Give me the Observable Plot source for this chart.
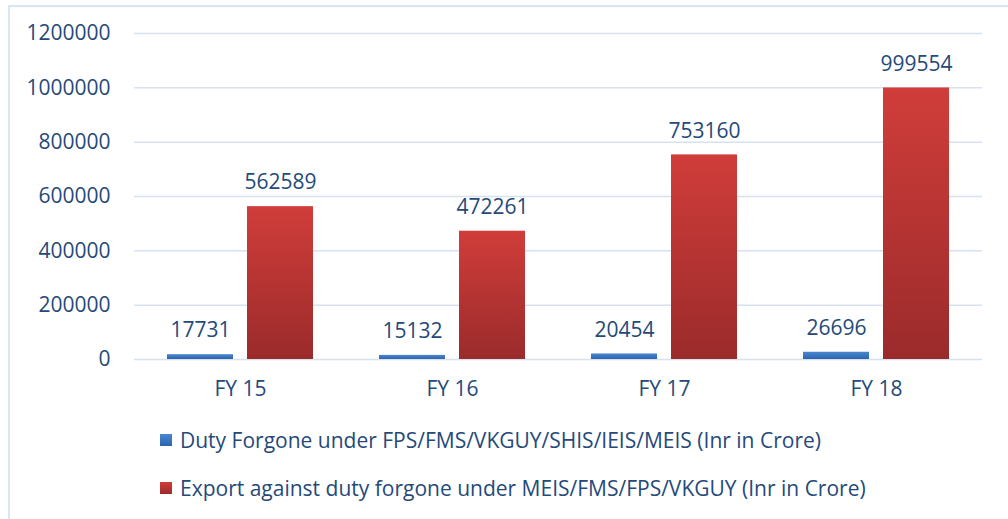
<!DOCTYPE html>
<html>
<head>
<meta charset="utf-8">
<script src="https://cdn.jsdelivr.net/npm/d3@7"></script>
<script src="https://cdn.jsdelivr.net/npm/@observablehq/plot@0.6"></script>
<style>
  html, body { margin: 0; padding: 0; background: #fff; overflow: hidden; }
  body { width: 1008px; height: 519px; position: relative; font-family: "Open Sans", sans-serif; color: #254a7a; }
  #frame { position: absolute; left: 8px; top: 5px; width: 1100px; height: 600px; border: 2px solid #dbe5f1; box-sizing: border-box; }
  #chart { position: absolute; left: 0; top: 0; }
  #legend { position: absolute; left: 160px; top: 416px; font-size: 21px; }
  .item { display: flex; align-items: center; height: 48px; }
  .sw { width: 12px; height: 12px; margin-right: 8px; }
  #chart svg text { font-size: 21px; }
</style>
</head>
<body>
<div id="frame"></div>
<div id="chart"></div>
<div id="legend"></div>
<script>
const years = ["FY 15", "FY 16", "FY 17", "FY 18"];
const seriesNames = [
  "Duty Forgone under FPS/FMS/VKGUY/SHIS/IEIS/MEIS (Inr in Crore)",
  "Export against duty forgone under MEIS/FMS/FPS/VKGUY (Inr in Crore)"
];
const dutyForgone = [17731, 15132, 20454, 26696];
const exportValues = [562589, 472261, 753160, 999554];
const yTicks = [0, 200000, 400000, 600000, 800000, 1000000, 1200000];

const data = [];
years.forEach((y, i) => {
  data.push({year: y, series: seriesNames[0], value: dutyForgone[i]});
  data.push({year: y, series: seriesNames[1], value: exportValues[i]});
});

const textColor = "#254a7a";
const font = "Open Sans, sans-serif";

const plot = Plot.plot({
  width: 1008,
  height: 410,
  marginLeft: 133,
  marginRight: 25,
  marginTop: 33,
  marginBottom: 51,
  style: {fontFamily: font, fontSize: "21px", color: textColor, background: "transparent"},
  fx: {domain: years, padding: 0, label: null, tickSize: 0, tickPadding: 22},
  x: {domain: seriesNames, axis: null, paddingInner: 0.173, paddingOuter: 0.398},
  y: {domain: [0, 1200000], ticks: yTicks, tickSize: 0, tickPadding: 24, label: null, tickFormat: d => String(d)},
  color: {type: "ordinal", domain: seriesNames, range: ["url(#gradBlue)", "url(#gradRed)"]},
  marks: [
    Plot.ruleY(yTicks, {stroke: "#d7e2f0", strokeWidth: 1.5}),
    Plot.barY(data, {fx: "year", x: "series", y: "value", fill: "series", style: "filter: drop-shadow(1px 1px 1.5px rgba(0,0,0,0.25))"}),
    Plot.text(data, {fx: "year", x: "series", y: "value", text: d => String(d.value), dy: -24, fill: textColor, fontSize: 21})
  ]
});

const svgns = "http://www.w3.org/2000/svg";
const defs = document.createElementNS(svgns, "defs");
defs.innerHTML = `
  <linearGradient id="gradBlue" x1="0" y1="0" x2="0" y2="1">
    <stop offset="0" stop-color="#4a86d2"/><stop offset="1" stop-color="#2c64ae"/>
  </linearGradient>
  <linearGradient id="gradRed" x1="0" y1="0" x2="0" y2="1">
    <stop offset="0" stop-color="#d03d3a"/><stop offset="1" stop-color="#9b2b2b"/>
  </linearGradient>`;
plot.insertBefore(defs, plot.firstChild);
document.getElementById("chart").appendChild(plot);

const legend = document.getElementById("legend");
const swatchFills = ["linear-gradient(#4a86d2,#2c64ae)", "linear-gradient(#d03d3a,#9b2b2b)"];
seriesNames.forEach((s, i) => {
  const item = document.createElement("div");
  item.className = "item";
  const sw = document.createElement("span");
  sw.className = "sw";
  sw.style.background = swatchFills[i];
  const t = document.createElement("span");
  t.textContent = s;
  item.appendChild(sw);
  item.appendChild(t);
  legend.appendChild(item);
});
</script>
</body>
</html>
